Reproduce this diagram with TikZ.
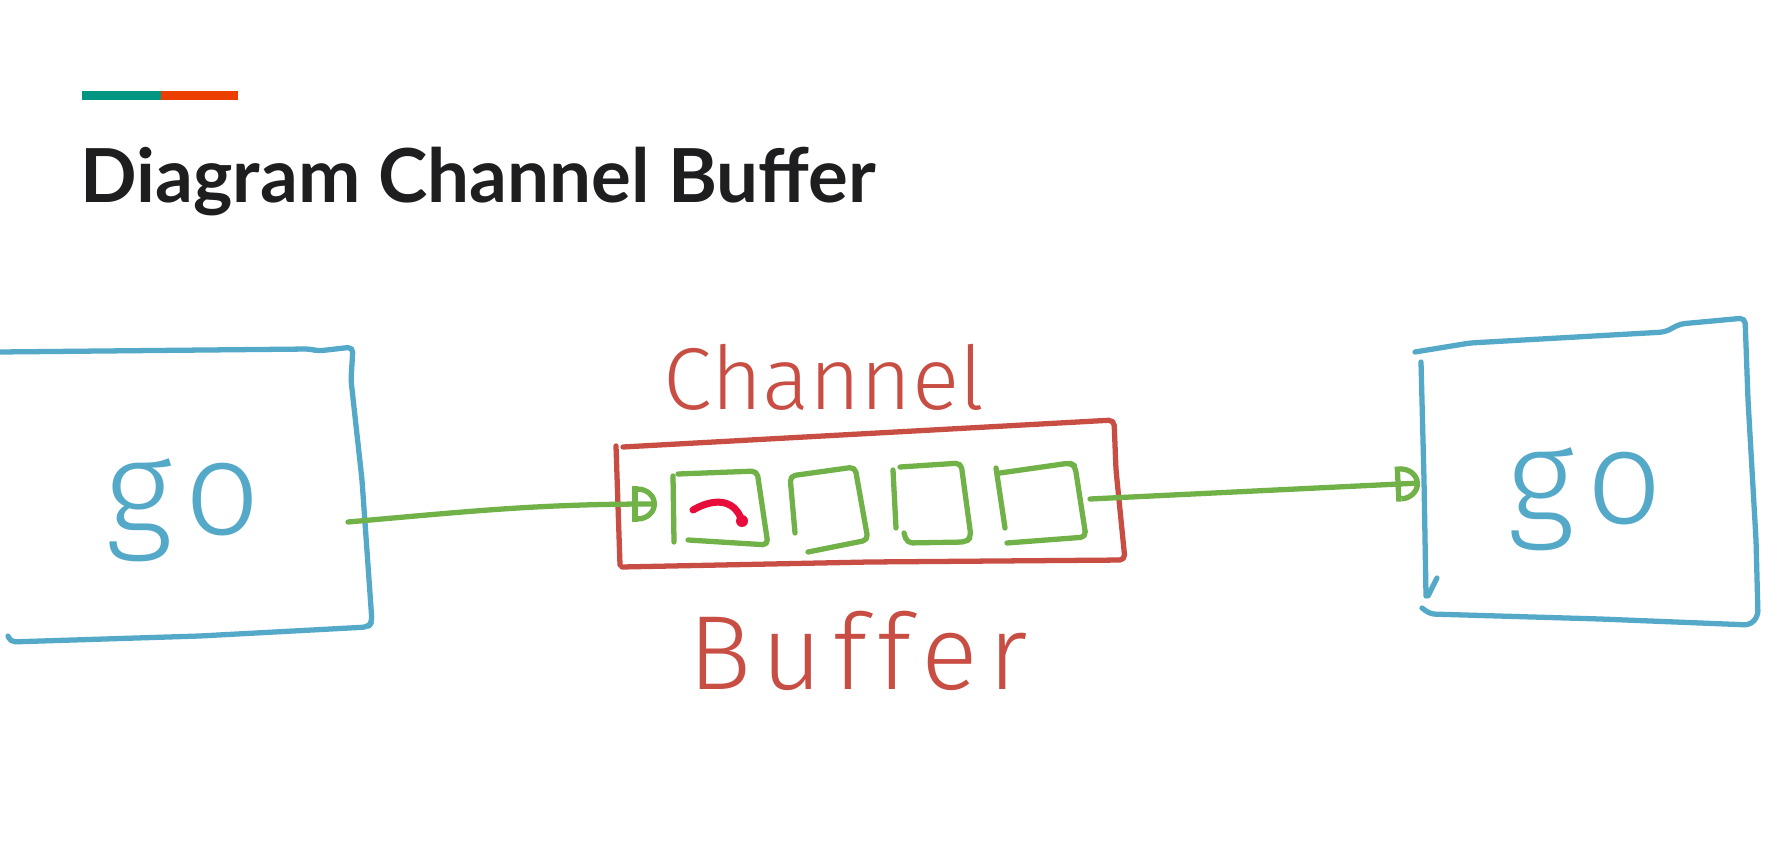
\documentclass[tikz,border=0pt]{standalone}
\usepackage{fontspec}
\setmainfont{Lato}
\newfontfamily\hand{Fira Sans Light}
\usetikzlibrary{arrows.meta}
\definecolor{gobox}{RGB}{84,168,200}
\definecolor{pipe}{RGB}{112,178,72}
\definecolor{chanred}{RGB}{200,78,68}
\definecolor{inkred}{RGB}{232,12,58}
\definecolor{barteal}{RGB}{0,150,130}
\definecolor{barorange}{RGB}{235,62,0}
\definecolor{titleink}{RGB}{30,30,32}

\begin{document}
\begin{tikzpicture}[x=0.1mm,y=-0.1mm, % 1 unit = 1 px of the slide, y downwards
	pen/.style={line width=1.5pt,line cap=round,line join=round,rounded corners=1.5pt},
	slot/.style={pen,draw=pipe},
	dtip/.style={-{Bar[width=10pt,sep=0pt]Arc Barb[width=10pt,length=5.5pt]}},
	handtext/.style={anchor=base,inner sep=0pt,font=\hand\fontsize{25}{30}\selectfont},
	gotext/.style={handtext,text=gobox,font=\hand\fontsize{38}{44}\selectfont\addfontfeature{LetterSpace=10}}]
	\useasboundingbox (0,0) rectangle (1791,843);
	\fill[white] (0,0) rectangle (1791,843);

	% title with the two colour bars
	\fill[barteal] (82,91) rectangle (161,100);
	\fill[barorange] (161,91) rectangle (238,100);
	\node[anchor=base west,inner sep=0pt,text=titleink,
		font=\bfseries\fontsize{21.2}{25}\selectfont] (title) at (80,203) {Diagram Channel Buffer};

	% left goroutine
	\draw[pen,gobox] (0,352) -- (310,349) -- (318,351) -- (353,347) -- (351,380) -- (362,480)
		-- (372,622) -- (368,627) -- (200,636) -- (10,642) -- (8,636);
	\node[gotext] (goL) at (183,535) {go};

	% right goroutine
	\draw[pen,gobox] (1415,352) -- (1470,343) -- (1665,332) -- (1680,324) -- (1745,318)
		-- (1748,400) -- (1756,540) -- (1758,616) -- (1750,625) -- (1600,619) -- (1430,614) -- (1422,608);
	\draw[pen,gobox] (1421,362) -- (1424,480) -- (1426,596);
	\draw[pen,gobox] (1437,578) -- (1428,596);
	\node[gotext] (goR) at (1585,524) {go};

	% the channel and its buffer slots
	\draw[pen,chanred] (623,447) -- (1114,420) -- (1116,470) -- (1125,560) -- (870,562) -- (622,567);
	\draw[pen,chanred] (616,446) -- (620,565);
	\node[handtext,text=chanred] (chan) at (824,410) {Channel};
	\node[handtext,text=chanred,font=\hand\fontsize{30}{36}\selectfont\addfontfeature{LetterSpace=10}]
		(buf) at (858,689) {Buffer};

	\draw[slot] (673,476) -- (674,542);
	\draw[slot] (678,474) -- (757,471) -- (768,545) -- (688,540);
	\draw[slot] (795,533) -- (790,476) -- (855,467) -- (868,540) -- (808,552);
	\draw[slot] (893,470) -- (896,528);
	\draw[slot] (900,467) -- (961,463) -- (971,537) -- (966,542) -- (907,543) -- (904,533);
	\draw[slot] (996,468) -- (1005,528);
	\draw[slot] (1000,473) -- (1070,463) -- (1075,466) -- (1086,537) -- (1007,543);

	% value going into the first slot
	\draw[line width=2pt,line cap=round,inkred] (693,510) .. controls (712,499) and (734,497) .. (742,521);
	\fill[inkred] (742,521) circle (6);

	% flow of values
	\coordinate (goLout) at (348,522);
	\coordinate (chanin) at (657,504);
	\coordinate (chanout) at (1090,499);
	\coordinate (goRin) at (1420,483);
	\draw[pen,pipe,dtip] (goLout) to[out=5,in=180] (chanin);
	\draw[pen,pipe,dtip] (chanout) -- (goRin);
\end{tikzpicture}
\end{document}
